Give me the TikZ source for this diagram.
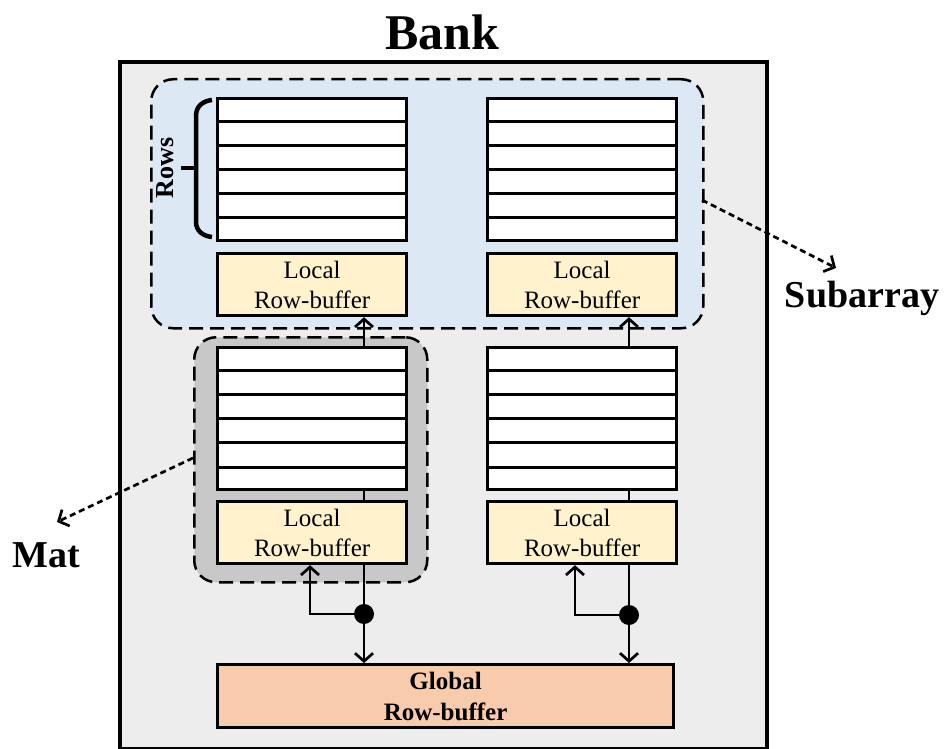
\documentclass[tikz,border=0pt]{standalone}
\usepackage{fontspec}
\setmainfont{Liberation Serif}
\usetikzlibrary{calc,arrows.meta}
\definecolor{bankgray}{HTML}{EDEDED}
\definecolor{subblue}{HTML}{DDE8F5}
\definecolor{matgray}{HTML}{C8C8C8}
\definecolor{bufyellow}{HTML}{FFF2CC}
\definecolor{globpeach}{HTML}{F8CBAD}
\tikzset{
  region/.style={draw, line width=2.5, dash pattern=on 14 off 7, rounded corners=22, anchor=north west, inner sep=0},
  rowsbox/.style={draw, line width=3.2, fill=white, minimum width=189, minimum height=142, anchor=north west, inner sep=0},
  lbuf/.style={draw, line width=3.2, fill=bufyellow, minimum width=189, minimum height=62, anchor=north west, inner sep=0, align=center, font=\fontsize{25}{30}\selectfont},
  gbuf/.style={draw, line width=3.2, fill=globpeach, minimum width=456, minimum height=63, anchor=north west, inner sep=0, align=center, font=\fontsize{25}{31}\selectfont\bfseries},
  conn/.style={line width=2.7},
  arr/.style={line width=2.7, -{Straight Barb[length=8,width=18,line width=2.7]}},
  dotarr/.style={line width=2.7, dash pattern=on 6 off 4, -{Straight Barb[length=8,width=18,line width=2.7]}},
  biglabel/.style={font=\fontsize{38}{40}\selectfont\bfseries, inner sep=0},
}
\newcommand{\rowlines}[1]{%
  \foreach \i in {1,...,5}{\draw[line width=3] ($(#1.north west)!\i/6!(#1.south west)$) -- ($(#1.north east)!\i/6!(#1.south east)$);}}
\begin{document}
\begin{tikzpicture}[x=1pt,y=-1pt]
\useasboundingbox (0,0) rectangle (948,749);
% bank
\node[draw, line width=4, fill=bankgray, minimum width=647, minimum height=687, anchor=north west, inner sep=0] (bank) at (118,60) {};
\node[font=\fontsize{50}{52}\selectfont\bfseries, inner sep=0] (title) at (442,32) {Bank};
% regions
\node[region, fill=subblue, minimum width=552, minimum height=249] (sub) at (150,78) {};
\node[region, fill=matgray, minimum width=233, minimum height=245] (mat) at (193,336) {};
% mats
\node[rowsbox] (r1) at (216,97) {};
\node[rowsbox] (r2) at (486,97) {};
\node[rowsbox] (r3) at (216,346) {};
\node[rowsbox] (r4) at (486,346) {};
\rowlines{r1}\rowlines{r2}\rowlines{r3}\rowlines{r4}
\node[lbuf] (b1) at (216,252) {Local\\Row-buffer};
\node[lbuf] (b2) at (486,252) {Local\\Row-buffer};
\node[lbuf] (b3) at (216,500) {Local\\Row-buffer};
\node[lbuf] (b4) at (486,500) {Local\\Row-buffer};
\node[gbuf] (g) at (216,663) {Global\\Row-buffer};
% connectors
\coordinate (c1) at (364,0);
\coordinate (c2) at (629,0);
\coordinate (e1) at (310,0);
\coordinate (e2) at (575,0);
\coordinate (d1) at (364,614);
\coordinate (d2) at (629,615);
\draw[arr] (c1 |- r3.north) -- (c1 |- b1.south);
\draw[arr] (c2 |- r4.north) -- (c2 |- b2.south);
\draw[conn] (c1 |- r3.south) -- (c1 |- b3.north);
\draw[conn] (c2 |- r4.south) -- (c2 |- b4.north);
\draw[conn] (c1 |- b3.south) -- (d1);
\draw[conn] (c2 |- b4.south) -- (d2);
\draw[arr] (d1) -- (c1 |- g.north);
\draw[arr] (d2) -- (c2 |- g.north);
\draw[arr] (d1) -| (e1 |- b3.south);
\draw[arr] (d2) -| (e2 |- b4.south);
\fill (d1) circle (10);
\fill (d2) circle (10);
% bracket and rows label
\draw[line width=4.5, line cap=butt] (212,100) .. controls (203,101) and (196,106) .. (196,116) -- (196,222) .. controls (196,231) and (203,236) .. (212,237);
\draw[line width=4.5] (196,168) -- (181,168);
\node[rotate=90, font=\fontsize{26}{28}\selectfont\bfseries, inner sep=0] (rows) at (165,168) {Rows};
% labels
\node[biglabel] (sublabel) at (862,298) {Subarray};
\node[biglabel] (matlabel) at (46,555) {Mat};
\coordinate (sa) at (702,200);
\coordinate (ma) at (193,458);
\draw[dotarr] (sa) -- (836,268);
\draw[dotarr] (ma) -- (57,522);
\end{tikzpicture}
\end{document}
